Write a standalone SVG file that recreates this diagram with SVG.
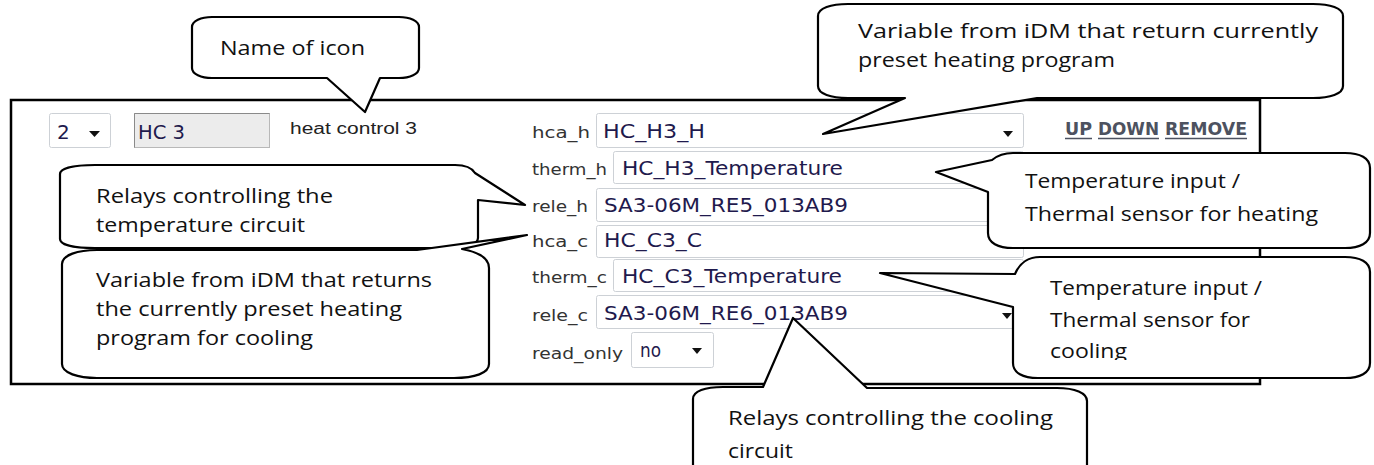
<svg xmlns="http://www.w3.org/2000/svg" width="1374" height="465" viewBox="0 0 1374 465">
<defs>
<style>
.frame{fill:none;stroke:#000;stroke-width:2.5}
.co{fill:#fff;stroke:#000;stroke-width:2.2;stroke-linejoin:round}
.ct{font-family:"Open Sans","DejaVu Sans",sans-serif;font-size:20px;fill:#111}
.fld{fill:#fff;stroke:#cdd1d6;stroke-width:1}
.lbl{font-family:"DejaVu Sans",sans-serif;font-size:16px;fill:#333}
.ftx{font-family:"DejaVu Sans",sans-serif;font-size:20px;fill:#1f1a4d}
.lnk{font-family:"DejaVu Sans",sans-serif;font-size:17px;font-weight:bold;fill:#4d5260}
.arr{fill:#111}
</style>
<clipPath id="clip6"><rect x="1013" y="257" width="357" height="103"/></clipPath>
<clipPath id="clip7"><rect x="693" y="387" width="394" height="75"/></clipPath>
</defs>
<rect id="frame" class="frame" x="11" y="100" width="1249" height="284"/>
<g id="ui">
<g id="sel-num">
<rect class="fld" x="49.5" y="113.5" width="61" height="34" rx="2"/>
<text class="ftx" x="57" y="139">2</text>
<polygon class="arr" points="89,131 100,131 94.5,137"/>
</g>
<g id="name-field">
<rect x="134.5" y="113.5" width="135" height="34" fill="#ececec" stroke="#b8b8b8"/>
<path d="M134.5,147.5 V113.5 H269.5" fill="none" stroke="#8a8a8a"/>
<text class="ftx" x="138" y="139" textLength="47" lengthAdjust="spacingAndGlyphs">HC 3</text>
</g>
<text id="title" x="290" y="134" textLength="127" lengthAdjust="spacingAndGlyphs" font-family="Liberation Sans, Arial, sans-serif" font-size="16" fill="#222">heat control 3</text>
<g id="row-hca_h">
<text class="lbl" x="532" y="138" textLength="58" lengthAdjust="spacingAndGlyphs">hca_h</text>
<rect class="fld" x="596.5" y="113.5" width="427" height="34" rx="2"/>
<text class="ftx" x="603" y="138" textLength="102" lengthAdjust="spacingAndGlyphs">HC_H3_H</text>
<polygon class="arr" points="1003,131 1013,131 1008,137"/>
</g>
<g id="links">
<text class="lnk" x="1065" y="135" textLength="27" lengthAdjust="spacingAndGlyphs">UP</text>
<text class="lnk" x="1098" y="135" textLength="61" lengthAdjust="spacingAndGlyphs">DOWN</text>
<text class="lnk" x="1165" y="135" textLength="82" lengthAdjust="spacingAndGlyphs">REMOVE</text>
<path d="M1065,138.5 H1092 M1098,138.5 H1159 M1165,138.5 H1247" stroke="#4d5260" stroke-width="1.3"/>
</g>
<g id="row-therm_h">
<text class="lbl" x="532" y="175" textLength="75" lengthAdjust="spacingAndGlyphs">therm_h</text>
<rect class="fld" x="613.5" y="151.5" width="410" height="32" rx="2"/>
<text class="ftx" x="622" y="175" textLength="221" lengthAdjust="spacingAndGlyphs">HC_H3_Temperature</text>
</g>
<g id="row-rele_h">
<text class="lbl" x="532" y="212" textLength="56" lengthAdjust="spacingAndGlyphs">rele_h</text>
<rect class="fld" x="596.5" y="188.5" width="427" height="33" rx="2"/>
<text class="ftx" x="604" y="212" textLength="244" lengthAdjust="spacingAndGlyphs">SA3-06M_RE5_013AB9</text>
<polygon class="arr" points="1003,205 1013,205 1008,211"/>
</g>
<g id="row-hca_c">
<text class="lbl" x="532" y="247" textLength="56" lengthAdjust="spacingAndGlyphs">hca_c</text>
<rect class="fld" x="596.5" y="225.5" width="427" height="32" rx="2"/>
<text class="ftx" x="604" y="247" textLength="98" lengthAdjust="spacingAndGlyphs">HC_C3_C</text>
<polygon class="arr" points="1003,240 1013,240 1008,246"/>
</g>
<g id="row-therm_c">
<text class="lbl" x="532" y="283" textLength="75" lengthAdjust="spacingAndGlyphs">therm_c</text>
<rect class="fld" x="613.5" y="259.5" width="410" height="32" rx="2"/>
<text class="ftx" x="622" y="283" textLength="220" lengthAdjust="spacingAndGlyphs">HC_C3_Temperature</text>
</g>
<g id="row-rele_c">
<text class="lbl" x="532" y="321" textLength="56" lengthAdjust="spacingAndGlyphs">rele_c</text>
<rect class="fld" x="596.5" y="295.5" width="427" height="33" rx="2"/>
<text class="ftx" x="604" y="320" textLength="244" lengthAdjust="spacingAndGlyphs">SA3-06M_RE6_013AB9</text>
<polygon class="arr" points="1002,313 1012,313 1007,319"/>
</g>
<g id="row-read_only">
<text class="lbl" x="532" y="359" textLength="91" lengthAdjust="spacingAndGlyphs">read_only</text>
<rect class="fld" x="631.5" y="332.5" width="82" height="35" rx="2"/>
<text class="ftx" x="640" y="357" textLength="21" lengthAdjust="spacingAndGlyphs">no</text>
<polygon class="arr" points="692,348 702,348 697,354"/>
</g>
</g>
<g id="connectors"></g>
<g id="callout-name">
<path class="co" d="M192,27 C192,21 201,17 212,17 L399,17 C410,17 419,21 419,27 L419,68 C419,74 410,78 399,78 L380,78 L365,112 L327,78 L212,78 C201,78 192,74 192,68 Z"/>
<text class="ct" x="220" y="55" textLength="145" lengthAdjust="spacingAndGlyphs">Name of icon</text>
</g>
<g id="callout-hca_h">
<path class="co" d="M818,16 C818,8 831,4 848,4 L1313,4 C1330,4 1343,8 1343,16 L1343,86 C1343,94 1330,98 1313,98 L1037,98 L823,134 L905,98 L848,98 C831,98 818,94 818,86 Z"/>
<text class="ct" x="858" y="38" textLength="460" lengthAdjust="spacingAndGlyphs">Variable from iDM that return currently</text>
<text class="ct" x="858" y="67" textLength="257" lengthAdjust="spacingAndGlyphs">preset heating program</text>
</g>
<g id="callout-rele_h">
<path class="co" d="M60,174 C60,168 75,165 95,165 L455,165 C466,165 472,168 475,173 L525,205 L478,200 L478,238 C478,245 465,248 443,248 L95,248 C75,248 60,245 60,239 Z"/>
<text class="ct" x="96" y="203" textLength="237" lengthAdjust="spacingAndGlyphs">Relays controlling the</text>
<text class="ct" x="96" y="232" textLength="209" lengthAdjust="spacingAndGlyphs">temperature circuit</text>
</g>
<g id="callout-hca_c">
<path class="co" d="M62,264 C62,255 78,250 97,250 L417,250 L527,235 L462,249 C478,252 489,258 489,268 L489,364 C489,373 475,378 454,378 L97,378 C78,378 62,373 62,364 Z"/>
<text class="ct" x="96" y="287" textLength="336" lengthAdjust="spacingAndGlyphs">Variable from iDM that returns</text>
<text class="ct" x="96" y="316" textLength="306" lengthAdjust="spacingAndGlyphs">the currently preset heating</text>
<text class="ct" x="96" y="345" textLength="217" lengthAdjust="spacingAndGlyphs">program for cooling</text>
</g>
<g id="callout-therm_h">
<path class="co" d="M988,192 L936,172 L992,160 C998,155 1005,153 1013,153 L1345,153 C1360,153 1370,158 1370,168 L1370,233 C1370,243 1360,248 1345,248 L1013,248 C998,248 988,243 988,233 Z"/>
<text class="ct" x="1025" y="188" textLength="215" lengthAdjust="spacingAndGlyphs">Temperature input /</text>
<text class="ct" x="1025" y="221" textLength="293" lengthAdjust="spacingAndGlyphs">Thermal sensor for heating</text>
</g>
<g id="callout-therm_c">
<path class="co" d="M1013,307 L880,273 L1015,274 C1020,262 1030,257 1040,257 L1345,257 C1360,257 1370,262 1370,272 L1370,363 C1370,373 1360,378 1345,378 L1038,378 C1023,378 1013,373 1013,363 Z"/>
<g clip-path="url(#clip6)">
<text class="ct" x="1050" y="295" textLength="212" lengthAdjust="spacingAndGlyphs">Temperature input /</text>
<text class="ct" x="1050" y="327" textLength="200" lengthAdjust="spacingAndGlyphs">Thermal sensor for</text>
<text class="ct" x="1050" y="358" textLength="77" lengthAdjust="spacingAndGlyphs">cooling</text>
</g>
</g>
<g id="callout-rele_c">
<path class="co" d="M693,472 L693,399 C693,391 705,387 723,387 L763,387 L793,318 L867,388 L1057,388 C1075,388 1087,393 1087,401 L1087,472 Z"/>
<g clip-path="url(#clip7)">
<text class="ct" x="728" y="425" textLength="325" lengthAdjust="spacingAndGlyphs">Relays controlling the cooling</text>
<text class="ct" x="728" y="458" textLength="65" lengthAdjust="spacingAndGlyphs">circuit</text>
</g>
</g>
</svg>
